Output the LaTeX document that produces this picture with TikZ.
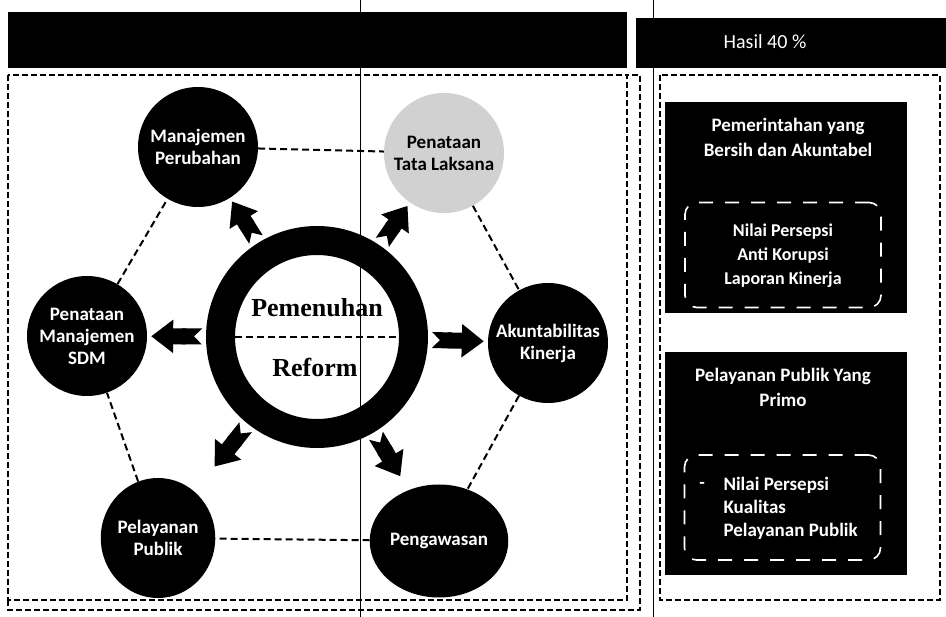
\documentclass[tikz,border=0pt]{standalone}
\usepackage{fontspec}
\setmainfont{Carlito}
\newfontfamily\corefont{Liberation Serif}
\usetikzlibrary{arrows.meta,shapes.geometric}

\begin{document}
\begin{tikzpicture}[x=1pt, y=-1pt,
	sat/.style={circle, fill=black, text=white, inner sep=0pt, minimum size=120pt, align=center, font=\bfseries\fontsize{19}{22}\selectfont},
	link/.style={dash pattern=on 7pt off 4pt, line width=2pt},
	frame/.style={dash pattern=on 6pt off 3pt, line width=1.6pt},
	push/.style={line width=16pt, {Triangle Cap[reversed]}-{Triangle[length=22pt, width=32pt]}, shorten <=4pt},
	panel/.style={fill=black, inner sep=0pt, minimum width=242pt},
	inbox/.style={draw=white, line width=1.6pt, dash pattern=on 14pt off 12pt, rounded corners=12pt, inner sep=0pt, minimum width=196pt, minimum height=105pt},
	paneltext/.style={text=white, align=center, font=\bfseries\fontsize{19}{25}\selectfont}]
	\useasboundingbox (0,0) rectangle (946,617);
	\fill (8,12) rectangle (627,68);
	\fill (636,18) rectangle (946,68);
	\node (hasil) [text=white, font=\fontsize{20}{22}\selectfont] at (765,42) {Hasil 40 \%};

	\draw[line width=0.8pt] (360,0) -- (360,617);
	\draw[line width=1pt] (653,0) -- (653,617);

	\draw[frame] (8,75) rectangle (627,600);
	\draw[frame] (8,600) -- (8,610) -- (640,610) -- (640,75) -- (627,75);
	\draw[frame] (660,75) rectangle (940,600);

	\node (core) [circle, draw=black, line width=29pt, minimum size=193pt, inner sep=0pt] at (317,337) {};
	\node (pem) [font=\corefont\bfseries\fontsize{26}{30}\selectfont] at (317,308) {Pemenuhan};
	\node (ref) [font=\corefont\bfseries\fontsize{26}{30}\selectfont] at (315,367) {Reform};
	\draw[link] ([xshift=29pt]core.west) -- ([xshift=-29pt]core.east);

	\node (mp) [sat] at (198,147) {Manajemen\\Perubahan};
	\node (ptl) [sat, fill=black!18, text=black] at (444,153) {Penataan\\Tata Laksana};
	\node (ak) [sat] at (548,343) {Akuntabilitas\\Kinerja};
	\node (pg) [sat, ellipse, minimum width=122pt, minimum height=113pt] at (439,541) {Pengawasan};
	\node (pp) [sat, ellipse, minimum width=107pt, minimum height=120pt] at (158,538) {Pelayanan\\Publik};
	\node (sdm) [sat] at (87,336) {Penataan\\Manajemen\\SDM};

	\draw[link] (mp) -- (ptl);
	\draw[link] (ptl) -- (ak);
	\draw[link] (ak) -- (pg);
	\draw[link] (pg) -- (pp);
	\draw[link] (pp) -- (sdm);
	\draw[link] (sdm) -- (mp);

	\draw[push, shorten >=4pt] (core) -- (mp);
	\draw[push, shorten >=4pt] (core) -- (ptl);
	\draw[push, shorten >=4pt] (core) -- (ak);
	\draw[push, shorten >=16pt] (core) -- (pg);
	\draw[push, shorten >=32pt] (core) -- (pp);
	\draw[push, shorten >=4pt] (core) -- (sdm);

	\node (bersih) [panel, minimum height=211pt] at (786,207.5) {};
	\node (bersihjudul) [paneltext] at (788,137) {Pemerintahan yang\\Bersih dan Akuntabel};
	\node (bersihisi) [inbox] at (783,255) {};
	\node (bersihteks) [paneltext, font=\bfseries\fontsize{18}{24}\selectfont] at (783,256) {Nilai Persepsi\\Anti Korupsi\\Laporan Kinerja};

	\node (prima) [panel, minimum height=223pt] at (786,463.5) {};
	\node (primajudul) [paneltext] at (783,387) {Pelayanan Publik Yang\\Primo};
	\node (primaisi) [inbox] at (782.5,507.5) {};
	\node (primateks) [paneltext, align=left, font=\bfseries\fontsize{19}{23}\selectfont, anchor=west] at (720,508) {Nilai Persepsi\\Kualitas\\Pelayanan Publik};
	\node (primastrip) [text=white, font=\bfseries\fontsize{18}{20}\selectfont] at (702,485) {-};
\end{tikzpicture}
\end{document}
